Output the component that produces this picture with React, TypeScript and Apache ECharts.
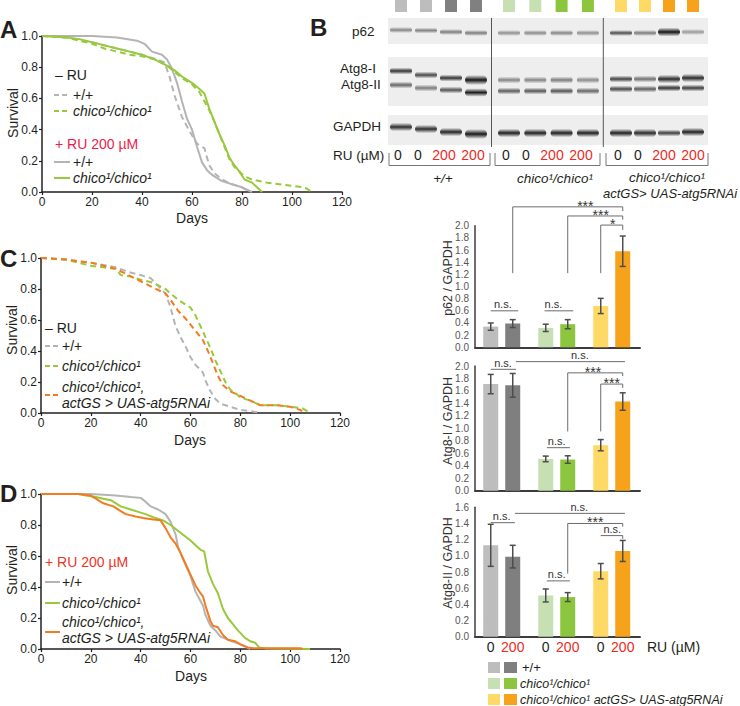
import React, { useEffect, useRef } from 'react';
import * as echarts from 'echarts';

const FONT = '"Liberation Sans", Arial, Helvetica, sans-serif';

// ---------------- survival data: [day, fraction surviving] ----------------
const A_wt_noRU = [[0,1],[10,0.99],[20,0.96],[30,0.92],[40,0.88],[46,0.85],[49,0.83],[51,0.74],[53,0.62],[56,0.48],[59,0.39],[62,0.31],[65,0.28],[66,0.22],[67,0.17],[69,0.12],[72,0.08],[76,0.05],[80,0.03],[83,0]];
const A_chico_noRU = [[0,1],[10,0.99],[15,0.97],[20,0.95],[25,0.92],[30,0.9],[35,0.88],[40,0.87],[45,0.85],[50,0.81],[53,0.77],[56,0.73],[60,0.69],[63,0.64],[65,0.58],[67,0.52],[69,0.45],[71,0.37],[73,0.29],[75,0.21],[77,0.16],[79,0.13],[81,0.1],[84,0.08],[90,0.06],[100,0.04],[105,0.03],[108,0]];
const A_wt_RU = [[0,1],[20,1],[30,0.99],[38,0.97],[41,0.95],[44,0.9],[48,0.88],[50,0.85],[52,0.79],[54,0.7],[56,0.58],[58,0.47],[60,0.4],[62,0.29],[64,0.19],[66,0.14],[68,0.11],[72,0.07],[76,0.05],[80,0.03],[84,0]];
const A_chico_RU = [[0,1],[10,0.99],[15,0.98],[20,0.96],[25,0.94],[30,0.92],[35,0.9],[40,0.88],[45,0.85],[50,0.81],[53,0.78],[56,0.74],[60,0.7],[63,0.66],[65,0.63],[67,0.53],[69,0.45],[71,0.37],[73,0.3],[75,0.22],[77,0.17],[79,0.13],[81,0.08],[84,0.06],[86,0.03],[88,0]];

const C_wt_noRU = [[0,1],[10,0.99],[20,0.97],[30,0.94],[35,0.91],[40,0.89],[44,0.87],[47,0.82],[50,0.77],[52,0.68],[54,0.56],[56,0.49],[58,0.43],[60,0.36],[62,0.31],[64,0.28],[65,0.26],[66,0.21],[68,0.14],[70,0.09],[72,0.06],[76,0.04],[80,0.02],[85,0.01],[88,0]];
const C_chico_noRU = [[0,1],[10,0.99],[15,0.97],[20,0.95],[25,0.94],[30,0.93],[32,0.89],[36,0.88],[40,0.86],[45,0.84],[50,0.8],[52,0.77],[56,0.72],[60,0.68],[62,0.63],[64,0.56],[66,0.49],[68,0.42],[70,0.34],[72,0.27],[74,0.2],[76,0.15],[78,0.13],[80,0.1],[84,0.08],[88,0.05],[95,0.05],[100,0.04],[105,0.03],[108,0]];
const C_atg5_noRU = [[0,1],[10,0.99],[15,0.98],[20,0.97],[25,0.95],[30,0.93],[35,0.89],[40,0.85],[45,0.81],[50,0.77],[52,0.73],[55,0.66],[58,0.61],[60,0.57],[63,0.51],[65,0.47],[67,0.4],[69,0.32],[71,0.24],[73,0.18],[76,0.14],[80,0.11],[84,0.08],[88,0.05],[95,0.05],[100,0.04],[104,0.02],[106,0]];

const D_wt_RU = [[0,1],[20,1],[30,0.99],[36,0.98],[40,0.975],[42,0.95],[44,0.92],[47,0.9],[50,0.87],[52,0.82],[54,0.74],[55,0.66],[57,0.58],[60,0.47],[62,0.37],[64,0.31],[65,0.28],[66,0.22],[68,0.15],[70,0.12],[72,0.08],[75,0.06],[80,0.03],[82,0.015],[84,0]];
const D_chico_RU = [[0,1],[15,1],[18,0.99],[22,0.98],[25,0.97],[28,0.96],[32,0.92],[36,0.9],[40,0.88],[42,0.87],[45,0.85],[49,0.83],[52,0.8],[56,0.75],[60,0.7],[64,0.64],[65.5,0.63],[67,0.5],[69,0.42],[71,0.36],[73,0.26],[75,0.2],[77,0.16],[79,0.12],[82,0.07],[84,0.05],[86,0.04],[87.5,0.01],[90,0.004],[108,0]];
const D_atg5_RU = [[0,1],[15,1],[20,0.99],[22,0.97],[25,0.94],[29,0.92],[32,0.89],[34,0.87],[38,0.855],[41,0.845],[45,0.835],[48,0.83],[50,0.78],[52,0.72],[54,0.68],[56,0.62],[58,0.55],[60,0.48],[62,0.41],[64,0.36],[65,0.34],[66,0.28],[68,0.18],[69,0.15],[71,0.14],[73,0.09],[75,0.06],[78,0.05],[80,0.03],[83,0.01],[85,0.005],[104,0.005],[105,0]];

// ---------------- bar data ----------------
const barGroups = ['+/+ 0', '+/+ 200', 'chico 0', 'chico 200', 'atg5RNAi 0', 'atg5RNAi 200'];
const barSlots = [0, 2, 5, 7, 10, 12];
const ruDose = ['0', '200', '0', '200', '0', '200'];
const p62Vals = [0.34, 0.39, 0.32, 0.38, 0.68, 1.58];
const p62Err = [0.06, 0.065, 0.06, 0.075, 0.125, 0.25];
const atg8IVals = [1.71, 1.69, 0.51, 0.5, 0.73, 1.43];
const atg8IErr = [0.155, 0.19, 0.045, 0.06, 0.09, 0.14];
const atg8IIVals = [1.13, 0.99, 0.51, 0.49, 0.81, 1.06];
const atg8IIErr = [0.26, 0.14, 0.08, 0.055, 0.095, 0.13];

// significance brackets in data units (x slot, y value)
const p62Sig = [
  { x1: 2, x2: 12, y: 2.31, d1: 1.22, d2: 2.24, label: '***', lx: 8.6 },
  { x1: 7, x2: 12, y: 2.16, d1: 1.22, d2: 2.1, label: '***', lx: 10.0 },
  { x1: 10, x2: 12, y: 2.01, d1: 1.22, d2: 1.93, label: '*', lx: 11.1 },
  { x1: 0, x2: 2.5, y: 0.6, label: 'n.s.', lx: 1.1 },
  { x1: 4.9, x2: 7.5, y: 0.6, label: 'n.s.', lx: 5.7 },
];
const atg8ISig = [
  { x1: 0, x2: 2.3, y: 1.947, label: 'n.s.', lx: 1.12 },
  { x1: 2.3, x2: 12.2, y: 2.07, label: 'n.s.', lx: 8.1 },
  { x1: 7, x2: 12, y: 1.89, d1: 0.95, d2: 1.84, label: '***', lx: 9.3 },
  { x1: 10, x2: 12, y: 1.71, d1: 0.95, d2: 1.65, label: '***', lx: 11.0 },
  { x1: 5.1, x2: 7.2, y: 0.69, label: 'n.s.', lx: 6.0 },
];
const atg8IISig = [
  { x1: 0, x2: 2.2, y: 1.41, label: 'n.s.', lx: 1.0 },
  { x1: 2.2, x2: 12.2, y: 1.525, label: 'n.s.', lx: 8.05 },
  { x1: 7, x2: 12, y: 1.4, d1: 0.78, d2: 1.36, label: '***', lx: 9.5 },
  { x1: 10, x2: 12, y: 1.25, d2: 1.21, label: 'n.s.', lx: 11.05 },
  { x1: 5.1, x2: 7.2, y: 0.69, label: 'n.s.', lx: 6.0 },
];

// ---------------- western blot band intensities (0..1) ----------------
const p62Band = [0.45, 0.45, 0.5, 0.5, 0.4, 0.42, 0.45, 0.4, 0.72, 0.5, 1.0, 0.35];
const atg8IBand = [0.85, 0.75, 0.85, 1.0, 0.45, 0.45, 0.5, 0.42, 0.78, 0.55, 0.9, 0.9];
const atg8IIBand = [0.6, 0.5, 0.7, 0.95, 0.65, 0.68, 0.7, 0.6, 0.75, 0.65, 0.85, 0.8];
const gapdhBand = [0.88, 0.88, 0.92, 0.98, 0.95, 0.95, 0.95, 0.95, 0.95, 0.9, 0.8, 0.95];
const laneDose = ['0', '0', '200', '200'];

// ---------------- styles / layout ----------------
const GREY = '#b4b4b4';
const GREEN = '#98c93c';
const ORANGE = '#f47b20';
const INK = '#231f20';
const RED = '#ee2a24';
const barColors = ['#bdbdbd', '#7f7f7f', '#c6e0b4', '#8cc63f', '#ffd966', '#f7a21b'];
const laneColors = ['#bdbdbd', '#bdbdbd', '#808080', '#808080', '#c6e0b4', '#c6e0b4', '#8cc63f', '#8cc63f', '#ffd966', '#ffd966', '#f7a21b', '#f7a21b'];
const groupStarts = [401, 509, 621];
const groupSteps = [25, 26.3, 24];
const laneX = (i: number) => groupStarts[Math.floor(i / 4)] + (i % 4) * groupSteps[Math.floor(i / 4)];
const p62Y = [30, 30.5, 32, 33, 33, 33, 33, 33, 33, 33, 32, 32];
const atg8IY = [71, 75, 78, 80, 80, 80, 80, 80, 79, 79, 79, 78];
const atg8IIY = [85, 88, 90, 92.5, 91, 91, 91, 91, 89, 89, 88, 88];
const gapdhY = [127, 129, 132, 134, 133, 133, 133, 133, 133, 133, 133, 132];

function buildOption() {
  const grids = [
    { left: 42, top: 36, width: 300, height: 156 },
    { left: 41, top: 258, width: 299, height: 155 },
    { left: 41, top: 494, width: 299, height: 155 },
    { left: 475, top: 225.7, width: 165, height: 121.6 },
    { left: 475, top: 366, width: 165, height: 124.7 },
    { left: 475, top: 507.3, width: 165, height: 129.4 },
  ];
  const xAxis: any[] = [];
  const yAxis: any[] = [];
  for (let i = 0; i < 3; i++) {
    xAxis.push({
      type: 'value', gridIndex: i, min: 0, max: 120, interval: 20,
      axisLine: { show: true, onZero: false, lineStyle: { color: INK, width: 1.5 } },
      axisTick: { show: true, length: 3, lineStyle: { color: INK, width: 1.2 } },
      axisLabel: { fontSize: 12, color: INK, margin: 4, fontFamily: FONT },
      splitLine: { show: false },
    });
    yAxis.push({
      type: 'value', gridIndex: i, min: 0, max: 1, interval: 0.2,
      axisLine: { show: true, onZero: false, lineStyle: { color: INK, width: 1.5 } },
      axisTick: { show: true, length: 3, lineStyle: { color: INK, width: 1.2 } },
      axisLabel: { fontSize: 12, color: INK, margin: 4, fontFamily: FONT, formatter: (v: number) => v.toFixed(1) },
      splitLine: { show: false },
    });
  }
  const barMax = [2, 2, 1.6];
  for (let k = 0; k < 3; k++) {
    const gi = 3 + k;
    xAxis.push({
      type: 'value', gridIndex: gi, min: -1.43, max: 13.57,
      axisLine: { show: true, onZero: false, lineStyle: { color: '#3c3c3c', width: 2 } },
      axisTick: { show: false },
      axisLabel: k === 2 ? {
        show: true, customValues: barSlots, margin: 3, fontFamily: FONT,
        formatter: (v: number) => {
          const d = ruDose[barSlots.indexOf(v)] || '';
          return d === '200' ? '{r|200}' : '{k|' + d + '}';
        },
        rich: { k: { color: INK, fontSize: 14, fontFamily: FONT }, r: { color: RED, fontSize: 14, fontFamily: FONT } },
      } : { show: false },
      splitLine: { show: false },
    });
    yAxis.push({
      type: 'value', gridIndex: gi, min: 0, max: barMax[k], interval: 0.2,
      axisLine: { show: true, onZero: false, lineStyle: { color: '#3c3c3c', width: 1.5 } },
      axisTick: { show: false },
      axisLabel: { fontSize: 10, color: '#555', margin: 6, fontFamily: FONT, formatter: (v: number) => v.toFixed(1) },
      splitLine: { show: false },
    });
  }

  const series: any[] = [];
  const surv = (gi: number, data: number[][], color: string, dashed: boolean, z = 3) =>
    series.push({
      type: 'line', xAxisIndex: gi, yAxisIndex: gi, data, showSymbol: false, symbol: 'none', z,
      lineStyle: { color, width: 2, type: dashed ? [6, 4] : 'solid' }, silent: true,
    });
  surv(0, A_wt_noRU, GREY, true);
  surv(0, A_wt_RU, GREY, false);
  surv(0, A_chico_noRU, GREEN, true, 4);
  surv(0, A_chico_RU, GREEN, false, 4);
  surv(1, C_wt_noRU, GREY, true);
  surv(1, C_chico_noRU, GREEN, true);
  surv(1, C_atg5_noRU, ORANGE, true, 4);
  surv(2, D_wt_RU, GREY, false);
  surv(2, D_chico_RU, GREEN, false);
  surv(2, D_atg5_RU, ORANGE, false, 4);

  const barSets = [
    { vals: p62Vals, errs: p62Err, sig: p62Sig },
    { vals: atg8IVals, errs: atg8IErr, sig: atg8ISig },
    { vals: atg8IIVals, errs: atg8IIErr, sig: atg8IISig },
  ];
  barSets.forEach((set, k) => {
    const gi = 3 + k;
    series.push({
      type: 'bar', xAxisIndex: gi, yAxisIndex: gi, barWidth: 15, z: 2, silent: true,
      data: set.vals.map((v, i) => ({ name: barGroups[i], value: [barSlots[i], v], itemStyle: { color: barColors[i] } })),
    });
    series.push({
      type: 'custom', xAxisIndex: gi, yAxisIndex: gi, z: 4, silent: true, clip: false,
      data: set.vals.map((v, i) => [barSlots[i], v, set.errs[i]]),
      renderItem: (params: any, api: any) => {
        const x = api.value(0), v = api.value(1), e = api.value(2);
        const t = api.coord([x, v + e]);
        const b = api.coord([x, v - e]);
        const w = 3;
        const st = { stroke: '#4d4d4d', lineWidth: 1.5 };
        return {
          type: 'group', children: [
            { type: 'line', shape: { x1: t[0], y1: t[1], x2: b[0], y2: b[1] }, style: st },
            { type: 'line', shape: { x1: t[0] - w, y1: t[1], x2: t[0] + w, y2: t[1] }, style: st },
            { type: 'line', shape: { x1: b[0] - w, y1: b[1], x2: b[0] + w, y2: b[1] }, style: st },
          ],
        };
      },
    });
    const list = set.sig as any[];
    series.push({
      type: 'custom', xAxisIndex: gi, yAxisIndex: gi, z: 5, silent: true, clip: false,
      data: list.map((b) => [b.x1, b.y]),
      renderItem: (params: any, api: any) => {
        const b = list[params.dataIndex];
        const p1 = api.coord([b.x1, b.y]);
        const p2 = api.coord([b.x2, b.y]);
        const st = { stroke: '#6b6b6b', lineWidth: 1 };
        const children: any[] = [{ type: 'line', shape: { x1: p1[0], y1: p1[1], x2: p2[0], y2: p2[1] }, style: st }];
        if (b.d1 != null) {
          const q = api.coord([b.x1, b.d1]);
          children.push({ type: 'line', shape: { x1: p1[0], y1: p1[1], x2: q[0], y2: q[1] }, style: st });
        }
        if (b.d2 != null) {
          const q = api.coord([b.x2, b.d2]);
          children.push({ type: 'line', shape: { x1: p2[0], y1: p2[1], x2: q[0], y2: q[1] }, style: st });
        }
        const lp = api.coord([b.lx, b.y]);
        const star = b.label.indexOf('*') >= 0;
        children.push({
          type: 'text', x: lp[0], y: lp[1] + (star ? 6 : -1),
          style: { text: b.label, align: 'center', verticalAlign: 'bottom', fill: '#333', fontSize: star ? 14 : 11, fontFamily: FONT },
        });
        return { type: 'group', children };
      },
    });
  });

  // ---------------- graphic ----------------
  const g: any[] = [];
  const txt = (x: number, y: number, text: string, o: any = {}) =>
    g.push({
      type: 'text', x, y, rotation: o.rot || 0, silent: true, z: 10,
      style: {
        text, fill: o.fill || INK, fontSize: o.size || 14, fontFamily: FONT,
        fontStyle: o.italic ? 'italic' : 'normal', fontWeight: o.bold ? 'bold' : 'normal',
        align: o.align || 'left', verticalAlign: o.va || 'middle',
      },
    });
  const ln = (x1: number, y1: number, x2: number, y2: number, stroke: string, w = 1, dash?: number[]) =>
    g.push({ type: 'line', silent: true, z: 10, shape: { x1, y1, x2, y2 }, style: { stroke, lineWidth: w, lineDash: dash } });
  const rc = (x: number, y: number, w: number, h: number, fill: any, extra: any = {}) =>
    g.push({ type: 'rect', silent: true, z: extra.z || 8, shape: { x, y, width: w, height: h, r: extra.r || 0 }, style: { fill } });

  // panel letters
  txt(0, 29, 'A', { bold: true, size: 24 });
  txt(310, 27, 'B', { bold: true, size: 24 });
  txt(0, 258, 'C', { bold: true, size: 24 });
  txt(0, 493, 'D', { bold: true, size: 24 });

  // survival axis names
  txt(12.5, 113, 'Survival', { rot: Math.PI / 2, align: 'center', size: 14 });
  txt(12, 330, 'Survival', { rot: Math.PI / 2, align: 'center', size: 14 });
  txt(12, 570, 'Survival', { rot: Math.PI / 2, align: 'center', size: 14 });
  txt(192, 218, 'Days', { align: 'center', size: 14 });
  txt(190, 440, 'Days', { align: 'center', size: 14 });
  txt(191, 676, 'Days', { align: 'center', size: 14 });

  // legend A
  const DASH = [5, 3];
  txt(55, 75, '– RU', { size: 14 });
  ln(54, 95, 70, 95, GREY, 2, DASH); txt(73, 95, '+/+', { size: 14 });
  ln(54, 111, 70, 111, GREEN, 2, DASH); txt(73, 111, 'chico¹/chico¹', { size: 14, italic: true });
  txt(55, 144, '+ RU 200 µM', { size: 14, fill: '#ec1c4b' });
  ln(54, 162, 70, 162, GREY, 2); txt(73, 162, '+/+', { size: 14 });
  ln(54, 178, 70, 178, GREEN, 2); txt(73, 178, 'chico¹/chico¹', { size: 14, italic: true });

  // legend C
  txt(45, 328, '– RU', { size: 14 });
  ln(45, 346, 60, 346, GREY, 2, DASH); txt(62, 346, '+/+', { size: 14 });
  ln(45, 366, 60, 366, GREEN, 2, DASH); txt(62, 366, 'chico¹/chico¹', { size: 14, italic: true });
  ln(45, 395, 60, 395, ORANGE, 2, DASH);
  txt(62, 387, 'chico¹/chico¹,', { size: 14, italic: true });
  txt(62, 403, 'actGS > UAS-atg5RNAi', { size: 14, italic: true });

  // legend D
  txt(45, 562, '+ RU 200 µM', { size: 14, fill: '#ef3424' });
  ln(45, 582, 60, 582, GREY, 2); txt(62, 582, '+/+', { size: 14 });
  ln(45, 603, 60, 603, GREEN, 2); txt(62, 603, 'chico¹/chico¹', { size: 14, italic: true });
  ln(45, 632, 60, 632, ORANGE, 2);
  txt(62, 622, 'chico¹/chico¹,', { size: 14, italic: true });
  txt(62, 638, 'actGS > UAS-atg5RNAi', { size: 14, italic: true });

  // western blot
  for (let i = 0; i < 12; i++) rc(laneX(i) - 6, 0, 12, 12, laneColors[i]);
  const BG = 238;
  const strips = [
    { top: 18, h: 26, bands: p62Band, ys: p62Y, bh: 6 },
    { top: 57, h: 49, bands: atg8IBand, ys: atg8IY, bh: 7 },
    { top: 57, h: 49, bands: atg8IIBand, ys: atg8IIY, bh: 7 },
    { top: 115, h: 30, bands: gapdhBand, ys: gapdhY, bh: 7 },
  ];
  [strips[0], strips[1], strips[3]].forEach((s) => rc(388, s.top, 320, s.h, `rgb(${BG},${BG},${BG})`, { z: 6 }));
  strips.forEach((s) => {
    s.bands.forEach((v, i) => {
      const lvl = Math.round(225 - 205 * v);
      const bh = s.bh + (v > 0.95 ? 3 : v > 0.85 ? 1.5 : 0);
      const fill = {
        type: 'linear', x: 0, y: 0, x2: 0, y2: 1,
        colorStops: [
          { offset: 0, color: `rgba(${lvl},${lvl},${lvl},0)` },
          { offset: 0.5, color: `rgba(${lvl},${lvl},${lvl},1)` },
          { offset: 1, color: `rgba(${lvl},${lvl},${lvl},0)` },
        ],
      };
      rc(laneX(i) - 11, s.ys[i] - bh / 2, 22, bh, fill, { z: 7, r: bh / 2 });
    });
  });
  ln(491.5, 18, 491.5, 147, '#555', 1);
  ln(603.3, 18, 603.3, 147, '#555', 1);
  txt(352, 31, 'p62', { size: 13.5 });
  txt(340, 68, 'Atg8-I', { size: 13.5 });
  txt(341, 84, 'Atg8-II', { size: 13.5 });
  txt(333, 126, 'GAPDH', { size: 13.5 });
  txt(333, 155, 'RU (µM)', { size: 13.5 });
  const numOffsets = [-3, 17, 43, 72];
  for (let gIdx = 0; gIdx < 3; gIdx++) {
    laneDose.forEach((d, j) => txt(groupStarts[gIdx] + numOffsets[j], 155, d, { size: 14, align: 'center', fill: d === '200' ? RED : INK }));
  }
  const brackets = [[389, 490], [495, 600], [606, 708]];
  brackets.forEach(([a, b]) => {
    ln(a, 153, a, 165.5, '#777', 1);
    ln(b, 153, b, 165.5, '#777', 1);
    ln(a, 165.5, b, 165.5, '#777', 1);
  });
  txt(443, 178, '+/+', { size: 13.5, align: 'center', italic: true });
  txt(555, 178, 'chico¹/chico¹', { size: 13.5, align: 'center', italic: true });
  txt(667, 177, 'chico¹/chico¹', { size: 13.5, align: 'center', italic: true });
  txt(603, 193, 'actGS> UAS-atg5RNAi', { size: 13 });
  g[g.length - 1].style.fontStyle = 'italic';

  // bar chart y titles
  txt(448, 278, 'p62 / GAPDH', { rot: Math.PI / 2, align: 'center', size: 12.5, fill: '#333' });
  txt(448, 421, 'Atg8-I / GAPDH', { rot: Math.PI / 2, align: 'center', size: 12.5, fill: '#333' });
  txt(448, 563, 'Atg8-II / GAPDH', { rot: Math.PI / 2, align: 'center', size: 12.5, fill: '#333' });
  txt(647, 647, 'RU (µM)', { size: 14 });

  // bar legend
  const legRows = [662, 678, 694];
  legRows.forEach((y, r) => {
    rc(488, y, 12, 11, barColors[r * 2]);
    rc(504, y, 13, 11, barColors[r * 2 + 1]);
  });
  txt(522, 667, '+/+', { size: 13 });
  txt(520, 684, 'chico¹/chico¹', { size: 12.5, italic: true });
  txt(520, 700, 'chico¹/chico¹ actGS> UAS-atg5RNAi', { size: 12.5, italic: true });

  return {
    animation: false,
    backgroundColor: '#ffffff',
    textStyle: { fontFamily: FONT },
    grid: grids,
    xAxis,
    yAxis,
    series,
    graphic: { elements: g },
  };
}

export default function App() {
  const ref = useRef<HTMLDivElement>(null);
  useEffect(() => {
    const chart = echarts.init(ref.current!, null, { renderer: 'svg' });
    chart.setOption(buildOption() as any);
    return () => chart.dispose();
  }, []);
  return <div ref={ref} style={{ position: 'absolute', left: 0, top: 0, width: 740, height: 706 }} />;
}
